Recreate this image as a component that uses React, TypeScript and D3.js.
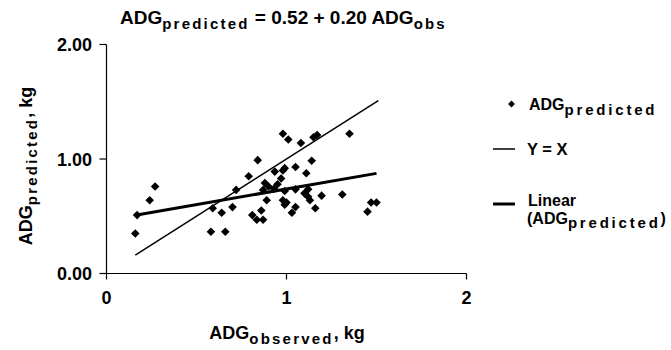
import React from "react";
import * as d3 from "d3";

const observed = [0.16,0.17,0.24,0.27,0.58,0.59,0.64,0.66,0.70,0.72,0.79,0.81,0.835,0.84,0.86,0.87,0.87,0.88,0.90,0.89,0.935,0.97,0.98,0.98,1.01,0.98,0.99,0.99,0.99,1.03,1.05,1.05,1.05,1.08,1.10,1.11,1.12,1.12,1.13,1.14,1.15,1.17,1.16,1.195,1.31,1.35,1.45,1.47,1.50,0.93,0.95,1.00];
const predicted = [0.35,0.51,0.64,0.76,0.365,0.57,0.53,0.365,0.58,0.73,0.85,0.51,0.47,0.99,0.55,0.47,0.73,0.79,0.76,0.64,0.89,0.83,0.90,1.22,1.17,0.64,0.60,0.72,0.92,0.53,0.58,0.735,0.93,1.14,0.70,0.875,0.735,0.67,0.64,0.985,1.19,1.21,0.57,0.68,0.69,1.22,0.54,0.62,0.62,0.74,0.78,0.62];

const xTicks = [0, 1, 2];
const yTicks = [0, 1, 2];
const identityRange = [0.16, 1.51];
const trendRange = [0.168, 1.5];
const trendIntercept = 0.465;
const trendSlope = 0.273;

const FONT = "'Liberation Sans', Arial, sans-serif";
const SUB_LS = 2.2;
const LEG_LS = 2.8;

export default function App() {
  const x = d3.scaleLinear().domain([0, 2]).range([106.5, 466.5]);
  const y = d3.scaleLinear().domain([0, 2]).range([273.5, 44.5]);
  const line = d3.line<[number, number]>().x(d => x(d[0])).y(d => y(d[1]));
  const identity: [number, number][] = identityRange.map(v => [v, v]);
  const trend: [number, number][] = trendRange.map(v => [v, trendIntercept + trendSlope * v]);
  const diamond = (cx: number, cy: number, r: number) =>
    `M${cx},${cy - r}L${cx + r},${cy}L${cx},${cy + r}L${cx - r},${cy}Z`;

  return (
    <div style={{ position: "absolute", left: 0, top: 0 }}>
      <svg width={671} height={350} style={{ display: "block", background: "#fff" }} fontFamily={FONT} fontWeight="bold">
        {/* title */}
        <text x={120} y={24} fontSize={19}>
          ADG<tspan fontSize={15} dy={5} letterSpacing={SUB_LS}>predicted</tspan>
          <tspan dy={-5}> = 0.52 + 0.20 ADG</tspan>
          <tspan fontSize={15} dy={5} letterSpacing={SUB_LS}>obs</tspan>
        </text>

        {/* axes */}
        <line x1={x(0)} x2={x(0)} y1={y(2)} y2={y(0)} stroke="#000" strokeWidth={1.2} />
        <line x1={x(0)} x2={x(2)} y1={y(0)} y2={y(0)} stroke="#000" strokeWidth={1.2} />
        {yTicks.map(t => (
          <g key={"y" + t}>
            <line x1={x(0) - 7} x2={x(0)} y1={y(t)} y2={y(t)} stroke="#000" strokeWidth={1.2} />
            <text x={92} y={y(t) + 6.5} fontSize={18} textAnchor="end">{t.toFixed(2)}</text>
          </g>
        ))}
        {xTicks.map(t => (
          <g key={"x" + t}>
            <line x1={x(t)} x2={x(t)} y1={y(0)} y2={y(0) + 6} stroke="#000" strokeWidth={1.2} />
            <text x={x(t)} y={304} fontSize={18} textAnchor="middle">{t}</text>
          </g>
        ))}

        {/* axis labels */}
        <text x={287} y={339} fontSize={18} textAnchor="middle">
          ADG<tspan fontSize={15} dy={5} letterSpacing={SUB_LS}>observed</tspan><tspan dy={-5}>, kg</tspan>
        </text>
        <text transform="translate(32,166) rotate(-90)" fontSize={18} textAnchor="middle">
          ADG<tspan fontSize={15} dy={5} letterSpacing={SUB_LS}>predicted</tspan><tspan dy={-5}>, kg</tspan>
        </text>

        {/* lines */}
        <path d={line(identity) || ""} fill="none" stroke="#000" strokeWidth={1.5} />
        <path d={line(trend) || ""} fill="none" stroke="#000" strokeWidth={3} />

        {/* points */}
        {observed.map((o, i) => (
          <path key={i} d={diamond(x(o), y(predicted[i]), 4.3)} fill="#000" />
        ))}

        {/* legend */}
        <path d={diamond(511.5, 104, 3.4)} fill="#000" />
        <text x={529} y={110} fontSize={16}>
          ADG<tspan fontSize={15} dy={5} letterSpacing={LEG_LS}>predicted</tspan>
        </text>
        <line x1={493} x2={515} y1={149} y2={149} stroke="#000" strokeWidth={1.5} />
        <text x={527} y={155} fontSize={16.5}>Y = X</text>
        <line x1={493} x2={515} y1={204} y2={204} stroke="#000" strokeWidth={3} />
        <text x={528} y={206} fontSize={16}>Linear</text>
        <text x={527} y={224} fontSize={16}>
          (ADG<tspan fontSize={15} dy={4} letterSpacing={LEG_LS}>predicted</tspan><tspan dy={-4}>)</tspan>
        </text>
      </svg>
    </div>
  );
}
